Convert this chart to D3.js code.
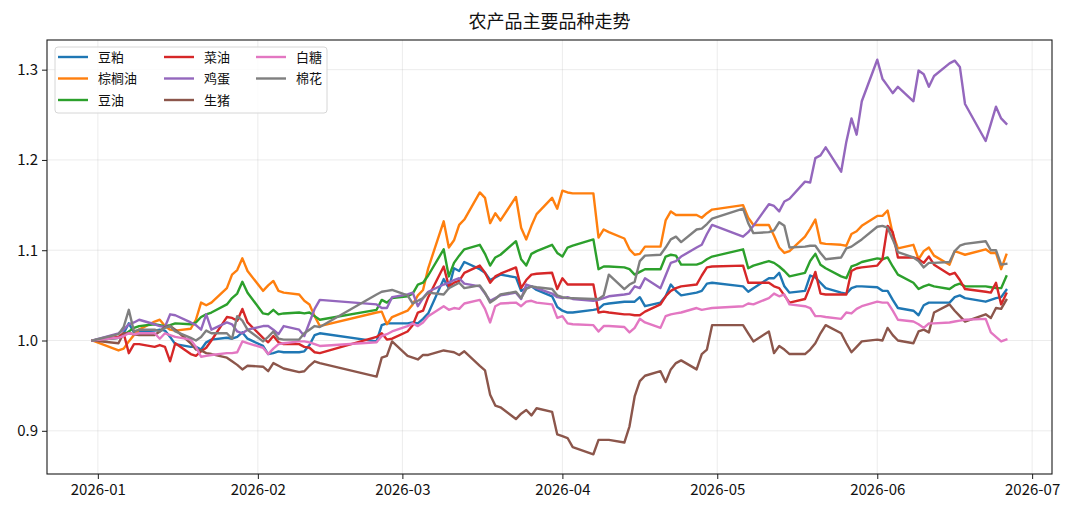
<!DOCTYPE html>
<html><head><meta charset="utf-8">
<script src="https://cdn.jsdelivr.net/npm/d3@7"></script>
<style>body{margin:0;background:#fff}svg{display:block}</style>
</head><body>
<script>
// trading dates
const dates = [
"2025-12-31",
"2026-01-05","2026-01-06","2026-01-07","2026-01-08","2026-01-09","2026-01-12","2026-01-13","2026-01-14","2026-01-15","2026-01-16",
"2026-01-19","2026-01-20","2026-01-21","2026-01-22","2026-01-23","2026-01-26","2026-01-27","2026-01-28","2026-01-29","2026-01-30",
"2026-02-02","2026-02-03","2026-02-04","2026-02-05","2026-02-06","2026-02-09","2026-02-10","2026-02-11","2026-02-12","2026-02-13",
"2026-02-24","2026-02-25","2026-02-26","2026-02-27",
"2026-03-02","2026-03-03","2026-03-04","2026-03-05","2026-03-06","2026-03-09","2026-03-10","2026-03-11","2026-03-12","2026-03-13",
"2026-03-16","2026-03-17","2026-03-18","2026-03-19","2026-03-20","2026-03-23","2026-03-24","2026-03-25","2026-03-26","2026-03-27",
"2026-03-30","2026-03-31",
"2026-04-01","2026-04-02","2026-04-03","2026-04-07","2026-04-08","2026-04-09","2026-04-10","2026-04-13","2026-04-14","2026-04-15",
"2026-04-16","2026-04-17","2026-04-20","2026-04-21","2026-04-22","2026-04-23","2026-04-24","2026-04-27","2026-04-28","2026-04-29","2026-04-30",
"2026-05-06","2026-05-07","2026-05-08","2026-05-11","2026-05-12","2026-05-13","2026-05-14","2026-05-15","2026-05-18","2026-05-19",
"2026-05-20","2026-05-21","2026-05-22","2026-05-25","2026-05-26","2026-05-27","2026-05-28","2026-05-29",
"2026-06-01","2026-06-02","2026-06-03","2026-06-04","2026-06-05","2026-06-08","2026-06-09","2026-06-10","2026-06-11","2026-06-12",
"2026-06-15","2026-06-16","2026-06-17","2026-06-18","2026-06-22","2026-06-23","2026-06-24","2026-06-25","2026-06-26"
];

const soyMeal = [1.000,
1.003,1.008,1.019,1.009,1.010, 1.011,1.012,1.011,1.004,0.996, 0.993,0.993,0.990,0.998,1.001, 1.003,1.002,1.004,1.009,1.002,
0.994,0.985,0.986,0.988,0.987, 0.987,0.988,0.995,1.006,1.008, 0.999,1.017,1.019,1.019,
1.019,1.020,1.019,1.024,1.030, 1.068,1.058,1.080,1.077,1.087, 1.079,1.075,1.067,1.070,1.073, 1.070,1.055,1.058,1.060,1.056, 1.049,1.037,
1.033,1.031,1.031, 1.034,1.035,1.040,1.041, 1.043,1.043,1.043,1.048,1.038, 1.042,1.049,1.062,1.055,1.050, 1.053,1.055,1.063,1.064,
1.060,1.054,1.058, 1.069,1.069,1.075,1.060,1.053, 1.055,1.072,1.070,1.064,1.058, 1.053,1.052,1.058,1.060,1.060,
1.059,1.055,1.055,1.045,1.036, 1.033,1.028,1.039,1.042,1.042, 1.042,1.048,1.050,1.047, 1.043,1.045,1.047,1.048,1.056];

const palmOil = [1.000,
0.989,0.991,0.999,1.006,1.012, 1.021,1.023,1.016,1.012,1.011, 1.013,1.023,1.042,1.039,1.042, 1.058,1.073,1.078,1.091,1.077,
1.055,1.061,1.066,1.055,1.053, 1.051,1.044,1.040,1.027,1.016, 1.031,1.032,1.018,1.026,
1.033,1.040,1.050,1.056,1.080, 1.132,1.103,1.111,1.128,1.134, 1.164,1.158,1.130,1.141,1.133, 1.159,1.125,1.112,1.127,1.140, 1.158,1.146,
1.166,1.164,1.163, 1.163,1.114,1.123,1.120, 1.113,1.101,1.095,1.096,1.104, 1.104,1.133,1.143,1.139,1.139, 1.139,1.136,1.141,1.145,
1.150,1.136,1.128, 1.128,1.116,1.103,1.097,1.099, 1.115,1.124,1.134,1.108,1.107, 1.106,1.105,1.118,1.121,1.127,
1.138,1.138,1.144,1.118,1.102, 1.106,1.090,1.099,1.103,1.094, 1.084,1.099,1.097,1.095, 1.101,1.097,1.097,1.079,1.095];

const soyOil = [1.000,
1.003,1.006,1.010,1.014,1.016, 1.018,1.017,1.016,1.017,1.019, 1.018,1.020,1.026,1.029,1.031, 1.040,1.047,1.052,1.065,1.053,
1.030,1.029,1.034,1.029,1.030, 1.031,1.030,1.031,1.027,1.023, 1.034,1.045,1.042,1.047,
1.049,1.052,1.062,1.064,1.072, 1.101,1.071,1.086,1.094,1.101, 1.106,1.096,1.083,1.092,1.095, 1.110,1.090,1.083,1.096,1.099, 1.106,1.097,
1.093,1.103,1.105, 1.112,1.079,1.082,1.082, 1.081,1.079,1.073,1.076,1.079, 1.079,1.093,1.095,1.094,1.084, 1.084,1.086,1.090,1.093,
1.101,1.080,1.083, 1.088,1.086,1.082,1.077,1.071, 1.075,1.088,1.096,1.084,1.080, 1.071,1.069,1.082,1.084,1.087,
1.091,1.090,1.092,1.082,1.073, 1.064,1.057,1.060,1.062,1.060, 1.057,1.061,1.063,1.060, 1.060,1.059,1.058,1.058,1.071];

const rapeOil = [1.000,
1.004,1.008,0.986,0.996,0.996, 0.993,0.995,0.993,0.977,0.997, 0.985,0.983,0.988,0.992,1.000, 1.026,1.025,1.022,1.035,1.020,
1.003,0.998,1.005,0.998,0.996, 0.996,0.993,0.992,0.987,0.986, 1.004,1.008,1.001,1.002,
1.010,1.017,1.031,1.033,1.048, 1.082,1.060,1.064,1.066,1.075, 1.083,1.075,1.064,1.071,1.074, 1.081,1.058,1.067,1.073,1.074, 1.075,1.057,
1.069,1.062,1.062, 1.062,1.031,1.032,1.031, 1.029,1.029,1.028,1.028,1.032, 1.040,1.049,1.055,1.058,1.060, 1.062,1.072,1.081,1.082,
1.083,1.064,1.064, 1.064,1.060,1.058,1.050,1.042, 1.046,1.060,1.076,1.052,1.051, 1.051,1.051,1.077,1.080,1.081,
1.083,1.090,1.127,1.120,1.092, 1.092,1.090,1.086,1.093,1.084, 1.073,1.075,1.067,1.057, 1.054,1.053,1.064,1.040,1.052];

const eggs = [1.000,
1.008,1.012,1.018,1.020,1.023, 1.018,1.016,1.015,1.029,1.028, 1.020,1.017,1.012,1.029,1.012, 1.020,1.018,1.010,1.008,1.012,
1.016,1.016,1.012,1.007,1.016, 1.012,1.005,1.020,1.035,1.045, 1.040,1.036,1.036,1.048,
1.051,1.053,1.038,1.047,1.054, 1.062,1.064,1.067,1.069,1.063, 1.060,1.052,1.044,1.047,1.050, 1.053,1.046,1.062,1.060,1.058, 1.052,1.048,
1.047,1.048,1.046, 1.044,1.045,1.047,1.049, 1.051,1.052,1.060,1.058,1.069, 1.058,1.072,1.086,1.088,1.093, 1.103,1.106,1.118,1.128,
1.115,1.120,1.127, 1.151,1.149,1.143,1.154,1.157, 1.176,1.175,1.202,1.205,1.214, 1.187,1.220,1.246,1.228,1.265,
1.311,1.290,1.282,1.274,1.281, 1.265,1.299,1.295,1.281,1.293, 1.307,1.310,1.303,1.262, 1.221,1.240,1.259,1.246,1.240];

const hogs = [1.000,
0.997,1.008,1.008,1.007,1.006, 1.006,1.010,1.015,1.016,1.012, 0.997,0.990,0.989,0.986,0.985, 0.981,0.977,0.973,0.968,0.972,
0.971,0.966,0.975,0.972,0.969, 0.965,0.966,0.972,0.977,0.975, 0.960,0.981,0.983,0.999,
0.983,0.981,0.979,0.984,0.984, 0.989,0.988,0.987,0.984,0.988, 0.972,0.967,0.940,0.928,0.926, 0.913,0.919,0.923,0.917,0.925, 0.921,0.896,
0.894,0.892,0.882, 0.874,0.890,0.890,0.890, 0.887,0.905,0.938,0.955,0.961, 0.966,0.954,0.968,0.975,0.978, 0.968,0.985,0.990,1.017,
1.017,1.008,0.999, 1.010,0.986,0.994,0.990,0.985, 0.985,0.990,0.997,1.008,1.017, 1.008,0.997,0.987,0.993,0.999,
1.001,1.000,1.014,1.006,1.000, 0.997,1.010,1.012,1.009,1.031, 1.040,1.033,1.027,1.021, 1.029,1.025,1.036,1.035,1.045];

const sugar = [1.000,
1.003,1.005,1.008,1.007,1.008, 1.008,1.002,1.008,1.006,1.004, 1.001,0.993,0.982,0.983,0.984, 0.986,0.986,0.987,0.999,0.997,
0.992,0.985,0.991,0.996,0.997, 0.999,0.999,0.998,0.996,0.994, 0.998,1.005,1.007,1.010,
1.016,1.019,1.016,1.020,1.027, 1.038,1.034,1.036,1.035,1.041, 1.045,1.035,1.020,1.038,1.041, 1.042,1.038,1.043,1.044,1.042, 1.040,1.025,
1.027,1.019,1.018, 1.017,1.010,1.016,1.016, 1.015,1.009,1.014,1.024,1.020, 1.014,1.027,1.029,1.030,1.031, 1.036,1.034,1.035,1.036,
1.038,1.041,1.040, 1.047,1.052,1.049,1.051,1.040, 1.038,1.036,1.027,1.027,1.026, 1.024,1.031,1.030,1.035,1.038,
1.043,1.042,1.042,1.033,1.023, 1.021,1.018,1.014,1.019,1.019, 1.020,1.021,1.022,1.023, 1.024,1.009,1.004,0.999,1.001];

const cotton = [1.000,
1.007,1.015,1.034,1.010,1.012, 1.012,1.010,1.014,1.016,1.010, 1.003,1.000,1.004,1.011,1.008, 1.008,1.002,1.027,1.022,1.012,
0.999,1.004,1.010,1.002,1.001, 1.001,1.008,1.012,1.016,1.015, 1.051,1.054,1.055,1.056,
1.050,1.041,1.044,1.047,1.053, 1.051,1.058,1.061,1.064,1.058, 1.061,1.053,1.042,1.046,1.051, 1.054,1.047,1.057,1.060,1.059, 1.057,1.050,
1.048,1.047,1.047, 1.046,1.046,1.050,1.073, 1.057,1.062,1.065,1.088,1.094, 1.095,1.103,1.112,1.115,1.109, 1.123,1.124,1.129,1.135,
1.146,1.130,1.119, 1.120,1.122,1.131,1.127,1.103, 1.104,1.105,1.105,1.097,1.090, 1.092,1.102,1.104,1.108,1.112,
1.126,1.127,1.125,1.112,1.098, 1.092,1.088,1.081,1.086,1.086, 1.087,1.099,1.105,1.107, 1.110,1.100,1.100,1.084,1.085];

const seriesNames = ["豆粕","棕榈油","豆油","菜油","鸡蛋","生猪","白糖","棉花"];
const seriesValues = [soyMeal, palmOil, soyOil, rapeOil, eggs, hogs, sugar, cotton];
const colors = ["#1f77b4","#ff7f0e","#2ca02c","#d62728","#9467bd","#8c564b","#e377c2","#7f7f7f"];
const yTicks = [0.9, 1.0, 1.1, 1.2, 1.3];
const xTickLabels = ["2026-01","2026-02","2026-03","2026-04","2026-05","2026-06","2026-07"];
const titleText = "农产品主要品种走势";

(function () {
const W = 1080, H = 519;
const mLeft = 47, mRight = 1052, mTop = 40, mBottom = 474;
const FONT = "'Noto Sans CJK SC','Noto Sans',sans-serif";

const parse = d3.timeParse("%Y-%m-%d");
const dts = dates.map(parse);
const xExt = d3.extent(dts);
const xPad = (xExt[1] - xExt[0]) * 0.05;
const allV = seriesValues.flat();
const yExt = d3.extent(allV);
const yPad = (yExt[1] - yExt[0]) * 0.05;

const x = d3.scaleTime().domain([new Date(+xExt[0] - xPad), new Date(+xExt[1] + xPad)]).range([mLeft, mRight]);
const y = d3.scaleLinear().domain([yExt[0] - yPad, yExt[1] + yPad]).range([mBottom, mTop]);

const svg = d3.select("body").append("svg").attr("width", W).attr("height", H)
  .style("font-family", FONT);
svg.append("rect").attr("width", W).attr("height", H).attr("fill", "#fff");

const xTickDates = xTickLabels.map(s => parse(s + "-01"));

// grid
const grid = svg.append("g");
grid.selectAll("line.gx").data(xTickDates).join("line")
  .attr("x1", d => x(d)).attr("x2", d => x(d)).attr("y1", mTop).attr("y2", mBottom)
  .attr("stroke", "#b0b0b0").attr("stroke-opacity", 0.3).attr("stroke-width", 0.8);
grid.selectAll("line.gy").data(yTicks).join("line")
  .attr("y1", d => y(d)).attr("y2", d => y(d)).attr("x1", mLeft).attr("x2", mRight)
  .attr("stroke", "#b0b0b0").attr("stroke-opacity", 0.3).attr("stroke-width", 0.8);

// lines
const line = d3.line().x((d, i) => x(dts[i])).y(d => y(d));
const plot = svg.append("g");
seriesValues.forEach((vals, k) => {
  plot.append("path").datum(vals).attr("d", line)
    .attr("fill", "none").attr("stroke", colors[k]).attr("stroke-width", 2.4)
    .attr("stroke-linejoin", "round").attr("stroke-linecap", "square");
});

// axes
const xAxis = d3.axisBottom(x).tickValues(xTickDates).tickFormat((d, i) => xTickLabels[i])
  .tickSize(5).tickPadding(5).tickSizeOuter(0);
const gx = svg.append("g").attr("transform", `translate(0,${mBottom})`).call(xAxis);
const yAxis = d3.axisLeft(y).tickValues(yTicks).tickFormat(d3.format(".1f"))
  .tickSize(5).tickPadding(4).tickSizeOuter(0);
const gy = svg.append("g").attr("transform", `translate(${mLeft},0)`).call(yAxis);
[gx, gy].forEach(g => {
  g.select(".domain").remove();
  g.selectAll(".tick line").attr("stroke", "#1a1a1a").attr("stroke-width", 1);
  g.selectAll(".tick text").attr("fill", "#111").style("font-size", "15px").style("font-family", FONT);
});

// frame
svg.append("rect").attr("x", mLeft).attr("y", mTop).attr("width", mRight - mLeft).attr("height", mBottom - mTop)
  .attr("fill", "none").attr("stroke", "#1a1a1a").attr("stroke-width", 1.1);

// title
svg.append("text").attr("x", (mLeft + mRight) / 2).attr("y", 28).attr("text-anchor", "middle")
  .style("font-size", "18px").attr("fill", "#111").text(titleText);

// legend
const lg = svg.append("g");
lg.append("rect").attr("x", 55).attr("y", 47).attr("width", 272).attr("height", 66).attr("rx", 3)
  .attr("fill", "#fff").attr("fill-opacity", 0.8).attr("stroke", "#d6d6d6").attr("stroke-width", 1);
const colX = [58, 164, 256];
const rowY = [57, 78.5, 100];
seriesNames.forEach((n, k) => {
  const c = Math.floor(k / 3), r = k % 3;
  const lx = colX[c], ly = rowY[r];
  lg.append("line").attr("x1", lx).attr("x2", lx + 30).attr("y1", ly).attr("y2", ly)
    .attr("stroke", colors[k]).attr("stroke-width", 2.4);
  lg.append("text").attr("x", lx + 40).attr("y", ly).attr("dy", "0.36em")
    .style("font-size", "13px").attr("fill", "#111").text(n);
});
})();
</script>
</body></html>
